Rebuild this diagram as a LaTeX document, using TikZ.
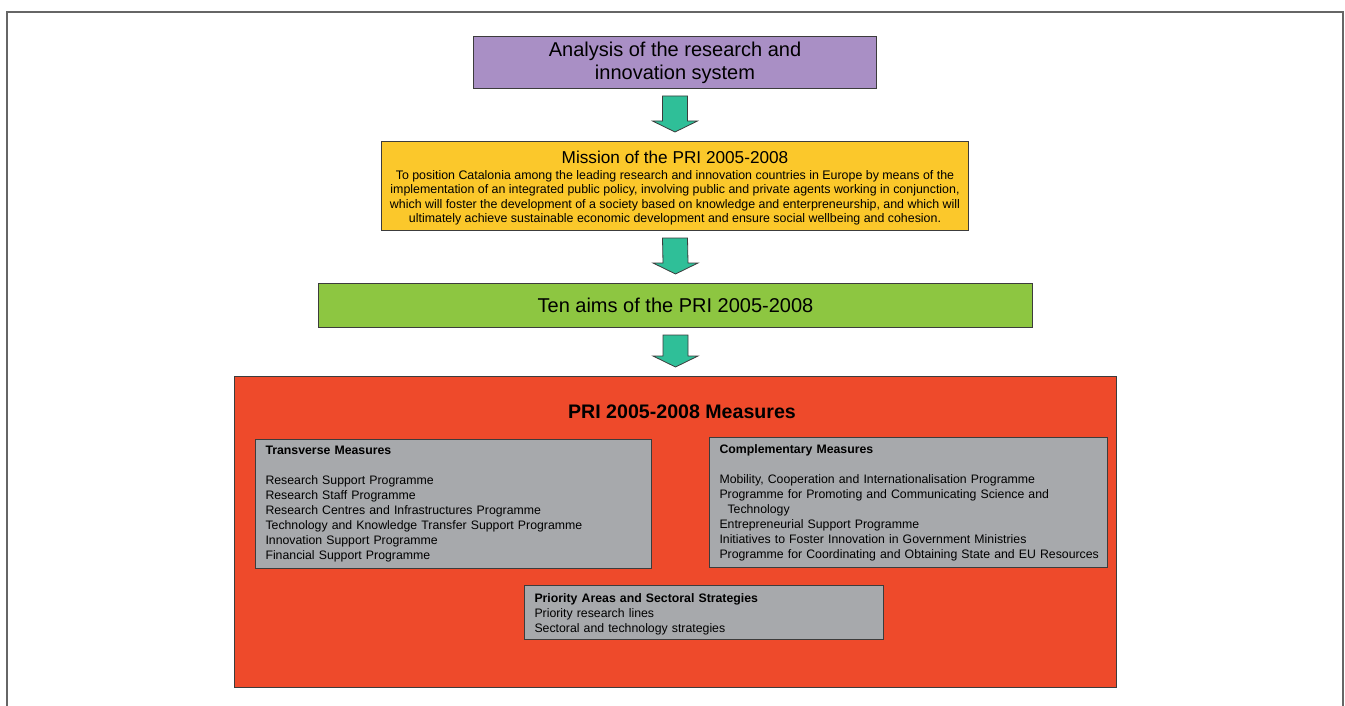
\documentclass[tikz,border=0pt]{standalone}
\usepackage{fontspec}
\setmainfont{Liberation Sans}
\usetikzlibrary{calc}
\definecolor{purp}{HTML}{A98FC5}
\definecolor{yel}{HTML}{FBC82B}
\definecolor{grn}{HTML}{8DC641}
\definecolor{redb}{HTML}{EE4A2B}
\definecolor{gry}{HTML}{A7A9AC}
\definecolor{teal}{HTML}{2FBF98}
\definecolor{edge}{HTML}{3C3C3C}
\newcommand\fatarrow[2]{%
  \filldraw[fatarr] ($(#1.south)+(-12.5,7)$) -- ($(#1.south)+(12.5,7)$)
    -- ($(#2.north)+(12.5,-20)$) -- ($(#2.north)+(22.5,-20)$)
    -- ($(#2.north)+(0,-9)$) -- ($(#2.north)+(-22.5,-20)$)
    -- ($(#2.north)+(-12.5,-20)$) -- cycle;}
\begin{document}
\begin{tikzpicture}[x=1pt,y=-1pt,
  box/.style={draw=edge,line width=1pt,anchor=north west,inner sep=0pt,align=center},
  gbox/.style={draw=edge,line width=1pt,fill=gry,anchor=north west,inner xsep=10pt,inner ysep=0pt,align=left,
     font=\fontsize{12.3}{15}\selectfont},
  fatarr/.style={fill=teal,draw=edge,line width=0.8pt,line join=miter},
  frame/.style={draw=black!60,line width=1.5pt}]
\useasboundingbox (0,0) rectangle (1345,706);
\draw[frame] (7,706) -- (7,12) -- (1343,12) -- (1343,706);

\node[box,fill=purp,minimum width=403pt,minimum height=52pt,font=\fontsize{20}{23}\selectfont] (an) at (473,36)
  {Analysis of the research and\\ innovation system};

\node[box,fill=yel,minimum width=587pt,minimum height=89pt,font=\fontsize{12.4}{14.6}\selectfont] (mi) at (381,141)
  {\fontsize{17.2}{19}\selectfont\rule{0pt}{17pt}Mission of the PRI 2005-2008\\[1pt]
   To position Catalonia among the leading research and innovation countries in Europe by means of the\\
   implementation of an integrated public policy, involving public and private agents working in conjunction,\\
   which will foster the development of a society based on knowledge and enterpreneurship, and which will\\
   ultimately achieve sustainable economic development and ensure social wellbeing and cohesion.};

\node[box,fill=grn,minimum width=714pt,minimum height=44pt,font=\fontsize{20}{23}\selectfont] (ta) at (318,283)
  {Ten aims of the PRI 2005-2008};

\node[box,fill=redb,minimum width=882pt,minimum height=311pt] (me) at (234,376) {};
\node[font=\fontsize{19.6}{22}\selectfont\bfseries] (met) at (682,412) {PRI 2005-2008 Measures};

\node[gbox,minimum width=396pt,minimum height=129pt,text width=376pt] (tr) at (255,439)
  {\textbf{Transverse Measures}\\[15pt]
   Research Support Programme\\
   Research Staff Programme\\
   Research Centres and Infrastructures Programme\\
   Technology and Knowledge Transfer Support Programme\\
   Innovation Support Programme\\
   Financial Support Programme};

\node[gbox,minimum width=398pt,minimum height=130pt,text width=378pt] (co) at (709,437)
  {\textbf{Complementary Measures}\\[15pt]
   Mobility, Cooperation and Internationalisation Programme\\
   Programme for Promoting and Communicating Science and\\
   \hspace*{8pt}Technology\\
   Entrepreneurial Support Programme\\
   Initiatives to Foster Innovation in Government Ministries\\
   \mbox{Programme for Coordinating and Obtaining State and EU Resources}};

\node[gbox,minimum width=359pt,minimum height=54pt,text width=339pt] (pr) at (524,585)
  {\rule{0pt}{13pt}\textbf{Priority Areas and Sectoral Strategies}\\
   Priority research lines\\
   Sectoral and technology strategies};

\fatarrow{an}{mi}
\fatarrow{mi}{ta}
\fatarrow{ta}{me}
\end{tikzpicture}
\end{document}
